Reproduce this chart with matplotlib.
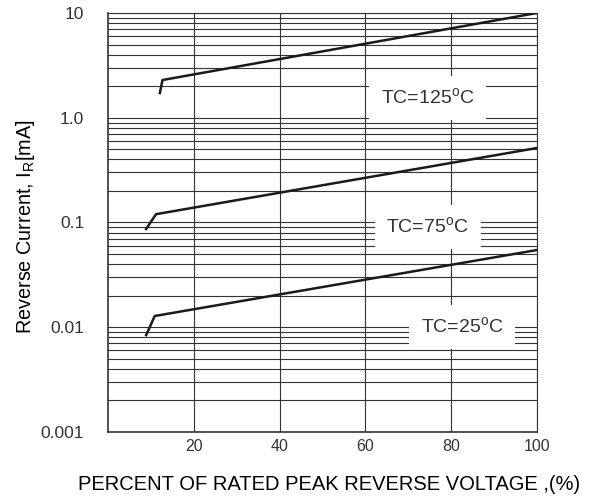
import numpy as np
import matplotlib.pyplot as plt
import matplotlib

matplotlib.rcParams['font.family'] = ['Liberation Sans', 'DejaVu Sans']
matplotlib.rcParams['mathtext.fontset'] = 'custom'
matplotlib.rcParams['mathtext.rm'] = 'Liberation Sans'

# percent of rated peak reverse voltage, reverse current (mA)
x_25 = [8.9, 10.9, 100]
ir_25 = [0.0084, 0.0128, 0.0546]
x_75 = [8.9, 11.2, 100]
ir_75 = [0.0867, 0.120, 0.514]
x_125 = [12.1, 12.7, 100]
ir_125 = [1.72, 2.29, 10.0]

y_ticks = [0.001, 0.01, 0.1, 1.0, 10]
y_labels = ['0.001', '0.01', '0.1', '1.0', '10']
x_ticks = [20, 40, 60, 80, 100]

fig = plt.figure(figsize=(5.91, 4.99), dpi=100, facecolor='white')
ax = fig.add_axes([0.1827, 0.1343, 0.7259, 0.8397])
ax.set_yscale('log')
ax.set_xlim(0, 100)
ax.set_ylim(0.001, 10)

ax.set_yticks(y_ticks)
ax.set_yticklabels(y_labels)
ax.set_xticks(x_ticks)
ax.yaxis.set_minor_locator(matplotlib.ticker.LogLocator(base=10, subs=np.arange(2, 10)))
ax.yaxis.set_minor_formatter(matplotlib.ticker.NullFormatter())
ax.tick_params(which='both', length=0)
ax.tick_params(axis='y', pad=17, labelsize=12.5, labelcolor='#333333')
ax.tick_params(axis='x', pad=5, labelsize=11.5, labelcolor='#333333')

ax.grid(True, which='both', axis='y', color='#333333', linewidth=0.8)
ax.grid(True, which='major', axis='x', color='#333333', linewidth=0.8)
for s in ax.spines.values():
    s.set_color('#333333')
    s.set_linewidth(0.8)
ax.spines['left'].set_linewidth(1.2)
ax.spines['bottom'].set_linewidth(1.2)

for xs, ys in [(x_25, ir_25), (x_75, ir_75), (x_125, ir_125)]:
    ax.plot(xs, ys, color='#1a1a1a', linewidth=1.8, zorder=3)

box = dict(facecolor='white', edgecolor='none', boxstyle='square,pad=0.6')
ax.text(74.5, 1.55, r'TC=125$^{\rm o}$C', ha='center', va='center', fontsize=14,
        color='#333333', bbox=box, zorder=4)
ax.text(74.5, 0.0906, r'TC=75$^{\rm o}$C', ha='center', va='center', fontsize=14,
        color='#333333', bbox=box, zorder=4)
ax.text(82.5, 0.0101, r'TC=25$^{\rm o}$C', ha='center', va='center', fontsize=14,
        color='#333333', bbox=box, zorder=4)

ax.set_ylabel(r'Reverse Current, I$_{\rm R}$[mA]', fontsize=14.3, labelpad=3)
ax.yaxis.label.set_y(0.49)
ax.set_xlabel('PERCENT OF RATED PEAK REVERSE VOLTAGE ,(%)', fontsize=14.5, labelpad=15)
ax.xaxis.label.set_x(0.515)

fig.savefig('out.png', dpi=100)
